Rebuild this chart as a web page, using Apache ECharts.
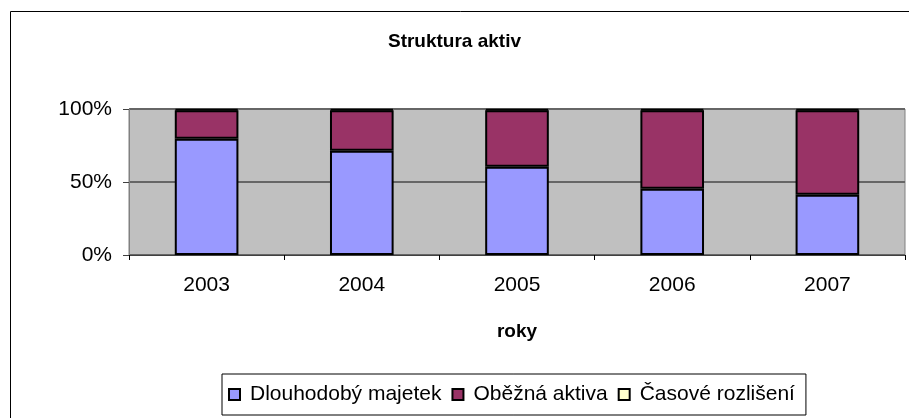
<!DOCTYPE html>
<html>
<head>
<meta charset="utf-8">
<title>Struktura aktiv</title>
<script src="https://cdn.jsdelivr.net/npm/echarts@6/dist/echarts.min.js"></script>
<style>
  html, body { margin: 0; padding: 0; background: #fff; }
  #chart { width: 909px; height: 418px; }
</style>
</head>
<body>
<div id="chart"></div>
<script>
// roky
var years = ['2003', '2004', '2005', '2006', '2007'];
// podíly v % (čteno z grafu)
var dlouhodobyMajetek = [79.7, 71.4, 60.5, 45.4, 41.3];
var obeznaAktiva = [19.4, 27.7, 38.6, 53.7, 57.8];
var casoveRozliseni = [0.9, 0.9, 0.9, 0.9, 0.9];
var yTicks = [0, 50, 100];

var font = "'Liberation Sans', Arial, sans-serif";

var chart = echarts.init(document.getElementById('chart'));

function barSeries(name, data, color) {
  return {
    name: name,
    type: 'bar',
    stack: 'aktiva',
    barWidth: '41%',
    data: data,
    itemStyle: {
      color: color,
      borderColor: '#000',
      borderWidth: 2
    },
    emphasis: { disabled: true }
  };
}

chart.setOption({
  animation: false,
  textStyle: { fontFamily: font },
  title: {
    text: 'Struktura aktiv',
    left: 'center',
    top: 27,
    textStyle: { fontFamily: font, fontSize: 19, fontWeight: 'bold', color: '#000' }
  },
  graphic: [{
    type: 'rect',
    shape: { x: 10.5, y: 11.5, width: 1000, height: 1000 },
    style: { fill: 'none', stroke: '#000', lineWidth: 1 },
    silent: true
  }],
  legend: {
    left: 222,
    top: 374,
    padding: [10, 11, 10, 6],
    itemWidth: 11,
    itemHeight: 11,
    itemGap: 10,
    borderColor: '#000',
    borderWidth: 1,
    backgroundColor: '#fff',
    icon: 'rect',
    textStyle: { fontFamily: font, fontSize: 21, color: '#000', padding: [0, 0, 0, 5] },
    data: ['Dlouhodobý majetek', 'Oběžná aktiva', 'Časové rozlišení']
  },
  grid: {
    left: 129,
    right: 4,
    top: 109,
    bottom: 163,
    show: true,
    backgroundColor: '#C0C0C0',
    borderColor: '#808080',
    borderWidth: 1
  },
  xAxis: {
    type: 'category',
    data: years,
    name: 'roky',
    nameLocation: 'middle',
    nameGap: 67,
    nameTextStyle: { fontFamily: font, fontSize: 19, fontWeight: 'bold', color: '#000' },
    axisLine: { show: true, lineStyle: { color: '#404040', width: 1 } },
    axisTick: { show: true, length: 5, lineStyle: { color: '#000' } },
    axisLabel: { fontSize: 21, color: '#000', margin: 20 }
  },
  yAxis: {
    type: 'value',
    min: yTicks[0],
    max: yTicks[yTicks.length - 1],
    interval: yTicks[1] - yTicks[0],
    axisLine: { show: true, lineStyle: { color: '#808080', width: 1 } },
    axisTick: { show: true, length: 6, lineStyle: { color: '#404040' } },
    axisLabel: { fontSize: 21, color: '#000', margin: 17, formatter: '{value}%' },
    splitLine: { show: true, lineStyle: { color: '#666666', width: 2 } }
  },
  series: [
    barSeries('Dlouhodobý majetek', dlouhodobyMajetek, '#9999FF'),
    barSeries('Oběžná aktiva', obeznaAktiva, '#993366'),
    barSeries('Časové rozlišení', casoveRozliseni, '#FFFFCC')
  ]
});
</script>
</body>
</html>
